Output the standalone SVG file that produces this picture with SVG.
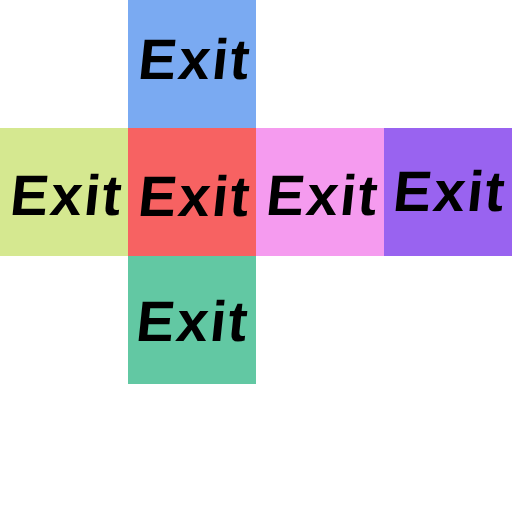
<svg xmlns="http://www.w3.org/2000/svg" width="512" height="512" viewBox="0 0 512 512">
<style>
.t{font-family:"Liberation Sans",Arial,sans-serif;font-weight:bold;font-size:57px;fill:#000;text-anchor:middle;letter-spacing:2px}
</style>
<rect width="512" height="512" fill="#fff"/>
<g id="top"><rect x="128" y="0" width="128" height="128" fill="#7aaaf2"/><text class="t" transform="translate(193,79) skewX(-6)">Exit</text></g>
<g id="left"><rect x="0" y="128" width="128" height="128" fill="#d5e890"/><text class="t" transform="translate(65,215) skewX(-6)">Exit</text></g>
<g id="front"><rect x="128" y="128" width="128" height="128" fill="#f76262"/><text class="t" transform="translate(193,216) skewX(-6)">Exit</text></g>
<g id="right"><rect x="256" y="128" width="128" height="128" fill="#f59bef"/><text class="t" transform="translate(321,215) skewX(-6)">Exit</text></g>
<g id="back"><rect x="384" y="128" width="128" height="128" fill="#9963f0"/><text class="t" transform="translate(448,211) skewX(-6)">Exit</text></g>
<g id="bottom"><rect x="128" y="256" width="128" height="128" fill="#62c8a3"/><text class="t" transform="translate(191,341) skewX(-6)">Exit</text></g>
<g id="connectors"/>
</svg>
